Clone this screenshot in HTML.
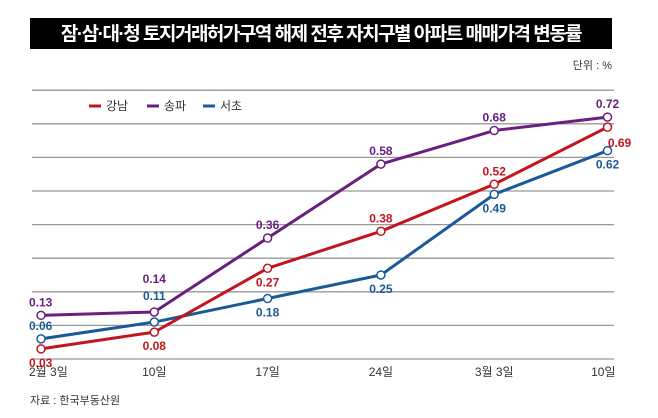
<!DOCTYPE html>
<html><head><meta charset="utf-8"><style>
body{margin:0;background:#fff;}
svg{display:block;font-family:"Liberation Sans","Noto Sans CJK KR",sans-serif;}
</style></head><body>
<svg id="chart" width="658" height="418" viewBox="0 0 658 418">
<rect x="30" y="18" width="582" height="31" fill="#000"/>
<text x="321" y="40" text-anchor="middle" fill="#fff" font-size="19" font-weight="bold" letter-spacing="-1.5">잠·삼·대·청 토지거래허가구역 해제 전후 자치구별 아파트 매매가격 변동률</text>
<text x="612" y="69" text-anchor="end" font-size="11" fill="#333">단위 : %</text>
<g id="grid"></g>
<g font-size="12" fill="#333">
<line x1="89" y1="106" x2="101" y2="106" stroke="#c2161f" stroke-width="3"/><text x="106" y="110">강남</text>
<line x1="147" y1="106" x2="159" y2="106" stroke="#6a1f80" stroke-width="3"/><text x="164" y="110">송파</text>
<line x1="203" y1="106" x2="215" y2="106" stroke="#1b5a98" stroke-width="3"/><text x="220" y="110">서초</text>
</g>
<g id="series"></g>
<g id="xlabels" font-size="12" fill="#333"></g>
<text x="30" y="404" font-size="11" fill="#333">자료 : 한국부동산원</text>
</svg>
<script>
const categories=["2월 3일","10일","17일","24일","3월 3일","10일"];
const gangnam=[0.03,0.08,0.27,0.38,0.52,0.69];
const songpa=[0.13,0.14,0.36,0.58,0.68,0.72];
const seocho=[0.06,0.11,0.18,0.25,0.49,0.62];
const gridTicks=[0,0.1,0.2,0.3,0.4,0.5,0.6,0.7,0.8];
const gangnamLabelPos=["below","below","below","above","above","right"];
const songpaLabelPos=["above","high","above","above","above","above"];
const seochoLabelPos=["above","mid","below","below","below","below"];
const NS="http://www.w3.org/2000/svg";
const x=i=>41+i*113.3;
const y=v=>359-v*336;
function mk(t,a,p){const e=document.createElementNS(NS,t);for(const k in a)e.setAttribute(k,a[k]);p.appendChild(e);return e;}
const grid=document.getElementById('grid');
gridTicks.forEach(t=>{
 const l=mk('line',{x1:32,x2:614,y1:y(t),y2:y(t),stroke:'#999','stroke-width':1.3},grid);
 
 
});
const xl=document.getElementById('xlabels');
categories.forEach((c,i)=>{
 const anchor=i==0?'start':(i==categories.length-1?'end':'middle');
 const xx=i==0?x(i)-12:(i==categories.length-1?x(i)+8:x(i));
 const t=mk('text',{x:xx,y:376,'text-anchor':anchor},xl);
 t.textContent=c;
 
 
});
const sg=document.getElementById('series');
function draw(vals,color,pos,name){
 const g=mk('g',{},sg);
 
 
 const p=mk('polyline',{points:vals.map((v,i)=>x(i)+','+y(v)).join(' '),fill:'none',stroke:color,'stroke-width':3,'stroke-linejoin':'round'},g);
 
 
 vals.forEach((v,i)=>{
  const c=mk('circle',{cx:x(i),cy:y(v),r:4,fill:'#fff',stroke:color,'stroke-width':1.5},g);
  
  
  let lx=x(i),ly,anc='middle';
  if(pos[i]=='above')ly=y(v)-9;else if(pos[i]=='high')ly=y(v)-29;else if(pos[i]=='mid')ly=y(v)-22;else if(pos[i]=='below')ly=y(v)+18;else{ly=y(v)+20;lx=x(i)+12;}
  if(i==0)lx=x(i)-12,anc='start';
  const t=mk('text',{x:lx,y:ly,'text-anchor':anc,'font-size':12,'font-weight':'bold',fill:color},g);
  t.textContent=v.toFixed(2);
  
  
 });
}
draw(seocho,'#1b5a98',seochoLabelPos,'seocho');
draw(songpa,'#6a1f80',songpaLabelPos,'songpa');
draw(gangnam,'#c2161f',gangnamLabelPos,'gangnam');
</script>
</body></html>
